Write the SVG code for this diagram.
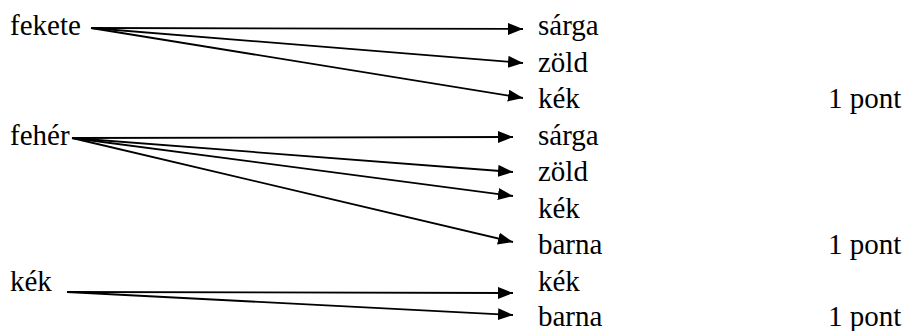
<svg xmlns="http://www.w3.org/2000/svg" width="910" height="331" viewBox="0 0 910 331">
  <defs>
    <marker id="arrow" markerUnits="userSpaceOnUse" markerWidth="16" markerHeight="13" refX="15" refY="6" orient="auto" viewBox="0 0 16 13">
      <path d="M0,0 L15,6 L0,12 z" fill="#000"/>
    </marker>
  </defs>
  <rect width="910" height="331" fill="#fff"/>

  <g id="connectors" stroke="#000" stroke-width="1.8" fill="none" marker-end="url(#arrow)">
    <line x1="91" y1="28" x2="523" y2="29"/>
    <line x1="91" y1="28" x2="523" y2="63"/>
    <line x1="91" y1="28" x2="523" y2="98"/>
    <line x1="72" y1="138" x2="513" y2="137"/>
    <line x1="72" y1="138" x2="513" y2="172"/>
    <line x1="72" y1="138" x2="513" y2="196"/>
    <line x1="72" y1="138" x2="513" y2="242"/>
    <line x1="67" y1="292" x2="513" y2="293"/>
    <line x1="67" y1="292" x2="513" y2="315"/>
  </g>

  <g font-family="Liberation Serif" font-size="29" fill="#000">
    <g id="src-fekete"><text x="10" y="35">fekete</text></g>
    <g id="src-feher"><text x="10" y="144.5">fehér</text></g>
    <g id="src-kek"><text x="10" y="290.5">kék</text></g>

    <g id="t1-sarga"><text x="538" y="35">sárga</text></g>
    <g id="t1-zold"><text x="538" y="71.5">zöld</text></g>
    <g id="t1-kek"><text x="538" y="108">kék</text></g>
    <g id="t2-sarga"><text x="538" y="144.5">sárga</text></g>
    <g id="t2-zold"><text x="538" y="181">zöld</text></g>
    <g id="t2-kek"><text x="538" y="217.5">kék</text></g>
    <g id="t2-barna"><text x="538" y="254">barna</text></g>
    <g id="t3-kek"><text x="538" y="290.5">kék</text></g>
    <g id="t3-barna"><text x="538" y="326">barna</text></g>

    <g id="points">
      <text x="828" y="108">1 pont</text>
      <text x="828" y="254">1 pont</text>
      <text x="828" y="326">1 pont</text>
    </g>
  </g>
</svg>
